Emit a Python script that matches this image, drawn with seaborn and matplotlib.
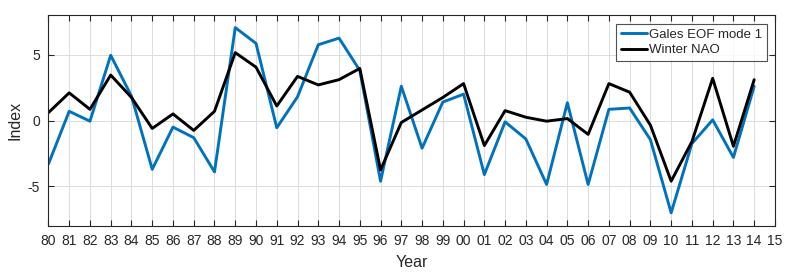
import numpy as np
import pandas as pd
import matplotlib
matplotlib.use("Agg")
import matplotlib.pyplot as plt
import seaborn as sns
from matplotlib.lines import Line2D

years = list(range(1980, 2015))
gales_eof1 = [-3.3, 0.7, -0.05, 4.95, 1.85, -3.7, -0.5, -1.3, -3.9, 7.05,
              5.85, -0.55, 1.8, 5.75, 6.25, 3.8, -4.6, 2.6, -2.1, 1.4,
              2.0, -4.1, -0.1, -1.4, -4.85, 1.35, -4.85, 0.85, 0.95, -1.45,
              -7.0, -1.75, 0.05, -2.8, 2.6]
winter_nao = [0.6, 2.1, 0.85, 3.45, 1.75, -0.6, 0.5, -0.75, 0.7, 5.15,
              4.05, 1.1, 3.35, 2.7, 3.1, 3.95, -3.75, -0.15, 0.8, 1.75,
              2.8, -1.9, 0.75, 0.25, -0.05, 0.15, -1.05, 2.8, 2.15, -0.35,
              -4.6, -1.6, 3.2, -1.95, 3.1]
series_names = ["Gales EOF mode 1", "Winter NAO"]
xtick_years = list(range(1980, 2016))
xtick_labels = [f"{y % 100:02d}" for y in xtick_years]
yticks = [-5, 0, 5]

df = pd.DataFrame({
    "Year": years * 2,
    "Index": gales_eof1 + winter_nao,
    "Series": [series_names[0]] * len(years) + [series_names[1]] * len(years),
})

sns.set_style("white")
plt.rcParams["font.family"] = ["Liberation Sans", "DejaVu Sans"]

fig = plt.figure(figsize=(7.94, 2.79), dpi=100)
ax = fig.add_axes([0.061, 0.19, 0.915, 0.756])

sns.lineplot(data=df, x="Year", y="Index", hue="Series",
             palette={series_names[0]: "#0072BD", series_names[1]: "black"},
             linewidth=2.1, ax=ax, legend=False)

ax.set_xlim(1980, 2015)
ax.set_ylim(-8, 8)
ax.set_xticks(xtick_years)
ax.set_xticklabels(xtick_labels, fontsize=10, color="#262626")
ax.set_yticks(yticks)
ax.set_yticklabels([str(v) for v in yticks], fontsize=10, color="#262626")
ax.grid(True, color="#dcdcdc", linewidth=0.7)
ax.set_axisbelow(True)
ax.tick_params(direction="in", length=4, width=0.8, top=True, right=True,
               bottom=True, left=True, color="#262626", pad=6)
for sp in ax.spines.values():
    sp.set_color("#262626")
    sp.set_linewidth(0.8)
ax.set_xlabel("Year", fontsize=11.5, color="#262626", labelpad=5)
ax.set_ylabel("Index", fontsize=11.5, color="#262626", labelpad=4)

handles = [Line2D([0], [0], color="#0072BD", lw=2.1),
           Line2D([0], [0], color="black", lw=2.1)]
leg = ax.legend(handles, series_names, loc="upper right",
                bbox_to_anchor=(0.989, 0.958), fontsize=9.5, frameon=True,
                fancybox=False, edgecolor="#262626", handlelength=2.0,
                handletextpad=0.15, borderpad=0.35, labelspacing=0.25,
                borderaxespad=0)
leg.get_frame().set_linewidth(0.8)

fig.savefig("out.png", dpi=100)
